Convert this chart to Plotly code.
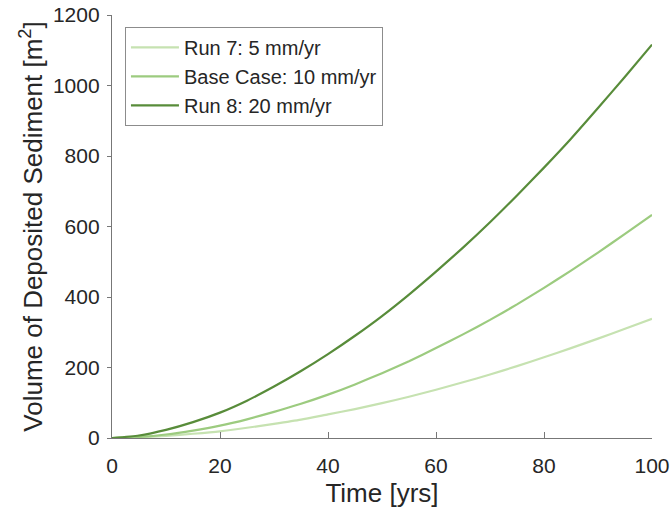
import plotly.graph_objects as go

# Time axis (years) and cumulative deposited volume (m^2) for each run
time_yrs = [0, 5, 10, 15, 20, 25, 30, 35, 40, 45, 50,
            55, 60, 65, 70, 75, 80, 85, 90, 95, 100]

run7_5mm = [0, 2, 6, 12, 19, 29, 40, 52, 67, 82, 99,
            117, 137, 158, 180, 204, 229, 255, 282, 310, 338]

base_10mm = [0, 3, 10, 21, 35, 53, 74, 97, 123, 152, 184,
             218, 255, 294, 335, 379, 426, 475, 526, 579, 633]

run8_20mm = [0, 7, 23, 45, 72, 106, 146, 190, 238, 290, 346,
             407, 472, 540, 612, 688, 767, 849, 936, 1025, 1116]

series_names = ["Run 7: 5 mm/yr", "Base Case: 10 mm/yr", "Run 8: 20 mm/yr"]
series_values = [run7_5mm, base_10mm, run8_20mm]
series_colors = ["#c6e2b1", "#9ccb7f", "#588c3a"]

x_ticks = [0, 20, 40, 60, 80, 100]
y_ticks = [0, 200, 400, 600, 800, 1000, 1200]

FONT = "Liberation Sans, Arial, Helvetica, sans-serif"
TEXT = "#262626"
AXIS = "#777777"

fig = go.Figure()
for name, vals, col in zip(series_names, series_values, series_colors):
    fig.add_trace(go.Scatter(
        x=time_yrs, y=vals, name=name, mode="lines",
        line=dict(color=col, width=2.2, shape="spline", smoothing=0.5),
    ))

fig.update_layout(
    width=672, height=513,
    margin=dict(l=112, r=20, t=15, b=75),
    paper_bgcolor="white", plot_bgcolor="white",
    font=dict(family=FONT, color=TEXT, size=21),
    showlegend=True,
    legend=dict(
        x=0.024, y=0.972, xanchor="left", yanchor="top",
        bgcolor="white", bordercolor="#8c8c8c", borderwidth=1,
        font=dict(size=20, color=TEXT, family=FONT),
        itemwidth=48, tracegroupgap=0,
    ),
    xaxis=dict(
        range=[0, 100], tickvals=x_ticks, ticktext=[str(v) for v in x_ticks],
        showgrid=False, zeroline=False, automargin=False,
        showline=True, linecolor=AXIS, linewidth=1.3,
        ticks="inside", ticklen=6, tickcolor=AXIS, tickwidth=1.3,
        tickfont=dict(size=21, color=TEXT), ticklabelstandoff=9,
        title=dict(text="Time [yrs]", font=dict(size=26, color=TEXT), standoff=7),
    ),
    yaxis=dict(
        range=[0, 1200], tickvals=y_ticks, ticktext=[str(v) for v in y_ticks],
        showgrid=False, zeroline=False, automargin=False,
        showline=True, linecolor=AXIS, linewidth=1.3,
        ticks="outside", ticklen=4, tickcolor=AXIS, tickwidth=1.3,
        tickfont=dict(size=21, color=TEXT), ticklabelstandoff=3,
        title=dict(text="Volume of Deposited Sediment [m<sup>2</sup>]",
                   font=dict(size=26, color=TEXT), standoff=2),
    ),
)

fig.write_html("out.html")
